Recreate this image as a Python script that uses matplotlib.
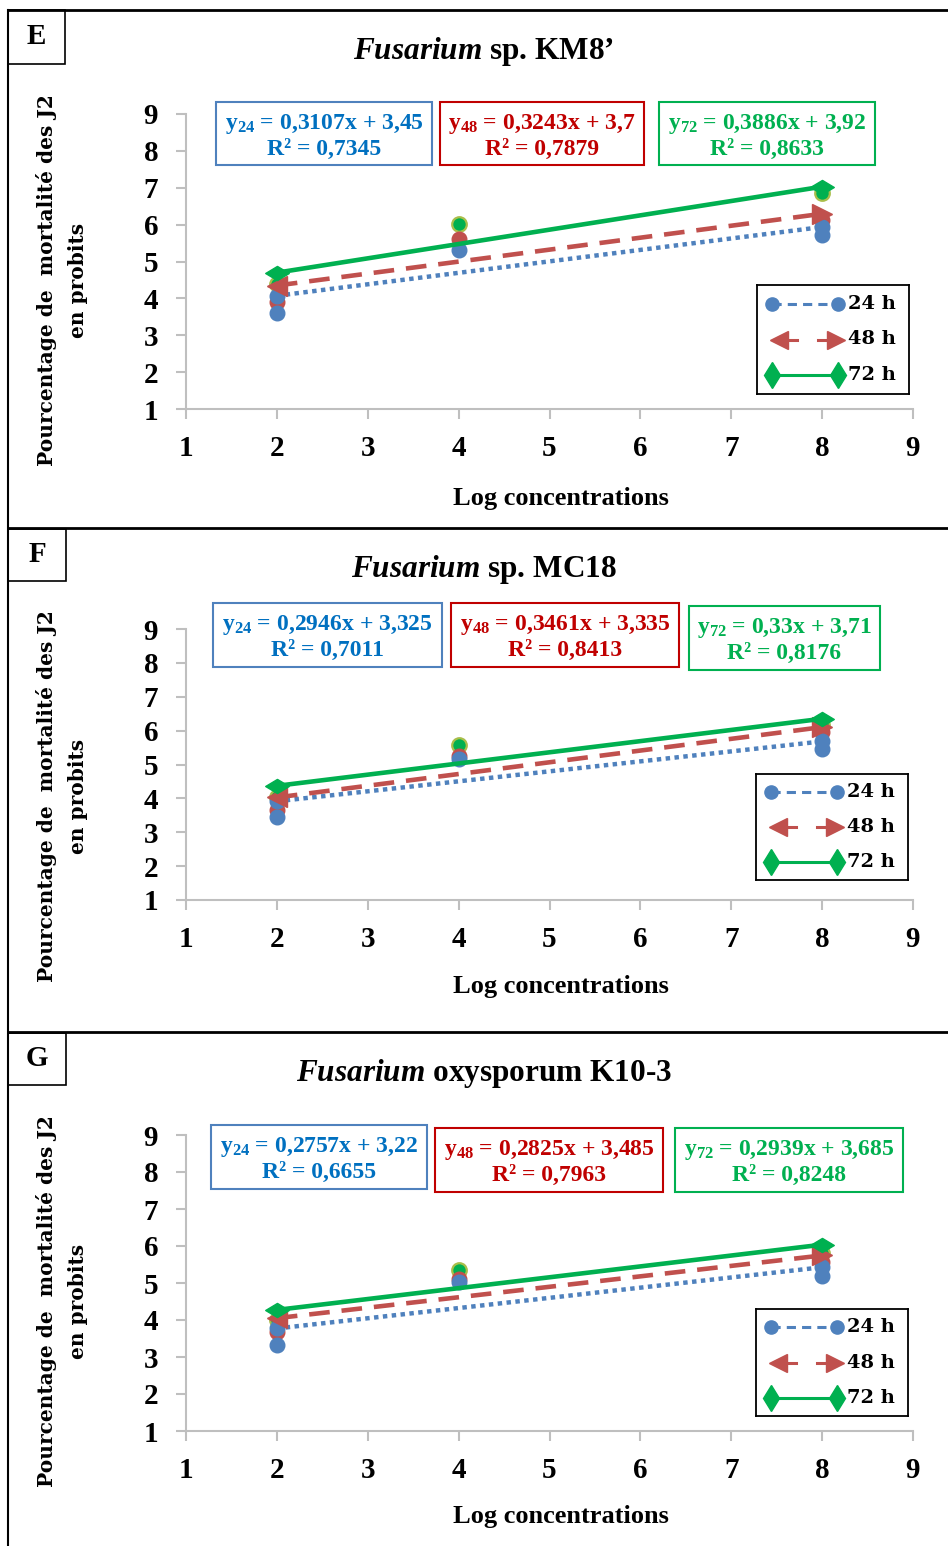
import numpy as np
import matplotlib
matplotlib.use("Agg")
import matplotlib.pyplot as plt
from matplotlib.patches import Rectangle
from matplotlib.lines import Line2D
from matplotlib.path import Path

plt.rcParams['font.family'] = ['Liberation Serif', 'DejaVu Serif']
plt.rcParams['font.weight'] = 'bold'
plt.rcParams['mathtext.fontset'] = 'custom'
plt.rcParams['mathtext.rm'] = 'Liberation Serif:bold'
plt.rcParams['mathtext.it'] = 'Liberation Serif:italic:bold'
plt.rcParams['mathtext.bf'] = 'Liberation Serif:bold'

# ---- donnees ----
conc = [2, 4, 8]
hours = ["24", "48", "72"]
panel_letters = ["E", "F", "G"]
title_species = ["sp. KM8’", "sp. MC18", "oxysporum K10-3"]

E_24 = [3.60, 5.31, 5.72]
E_48 = [3.90, 5.60, 6.12]
E_72 = [4.38, 6.03, 6.86]
F_24 = [3.46, 5.15, 5.45]
F_48 = [3.67, 5.24, 5.95]
F_72 = [4.03, 5.58, 6.16]
G_24 = [3.33, 5.04, 5.20]
G_48 = [3.68, 5.10, 5.58]
G_72 = [4.00, 5.34, 5.82]

# droites de regression (equations affichees)
E_slope = [0.3107, 0.3243, 0.3886]
E_icpt = [3.45, 3.7, 3.92]
E_r2 = [0.7345, 0.7879, 0.8633]
F_slope = [0.2946, 0.3461, 0.33]
F_icpt = [3.325, 3.335, 3.71]
F_r2 = [0.7011, 0.8413, 0.8176]
G_slope = [0.2757, 0.2825, 0.2939]
G_icpt = [3.22, 3.485, 3.685]
G_r2 = [0.6655, 0.7963, 0.8248]

probits = [[E_24, E_48, E_72], [F_24, F_48, F_72], [G_24, G_48, G_72]]
slopes = [E_slope, F_slope, G_slope]
icpts = [E_icpt, F_icpt, G_icpt]
r2s = [E_r2, F_r2, G_r2]

# ---- mise en page (pixels) ----
W, H = 948, 1546
layout = [
  dict(top=10, ax=(186, 114, 913, 409), title_y=52, xlab_y=498, ylab_y=280,
       letter=(8, 10, 65, 64), leg=(757, 285, 909, 394),
       eq=[(216, 102, 432, 165), (440, 102, 644, 165), (659, 102, 875, 165)]),
  dict(top=528, ax=(186, 629, 913, 900), title_y=570, xlab_y=987, ylab_y=796,
       letter=(8, 529, 66, 581), leg=(756, 774, 908, 880),
       eq=[(213, 603, 442, 667), (451, 603, 679, 667), (689, 606, 880, 670)]),
  dict(top=1032, ax=(186, 1135, 913, 1431), title_y=1074, xlab_y=1516, ylab_y=1301,
       letter=(8, 1033, 66, 1085), leg=(756, 1309, 908, 1416),
       eq=[(211, 1125, 427, 1189), (435, 1128, 663, 1192), (675, 1128, 903, 1192)]),
]

BLUE = '#4F81BD'
RED = '#C0504D'
GREEN = '#00B050'
GREEN_EDGE = '#A9BE4A'
TXT_COLORS = ['#0070C0', '#C00000', '#00B050']
BOX_COLORS = ['#4F81BD', '#C00000', '#00B050']

flat_diamond = Path([(-1, 0), (0, 0.6), (1, 0), (0, -0.6), (-1, 0)],
                    [Path.MOVETO, Path.LINETO, Path.LINETO, Path.LINETO, Path.CLOSEPOLY])

def fx(x):
  return x / W

def fy(y):
  return 1 - y / H

def fmt(v):
  return str(v).replace('.', ',')

fig = plt.figure(figsize=(W / 100, H / 100), dpi=100)

# bordures des panneaux
for y in [10, 528, 1032]:
  fig.add_artist(Line2D([fx(8), 1], [fy(y), fy(y)], color='black', lw=2, transform=fig.transFigure))
fig.add_artist(Line2D([fx(8), fx(8)], [fy(10), 0], color='black', lw=1.5, transform=fig.transFigure))

for p in range(3):
  L = layout[p]
  x0, y0, x1, y1 = L['ax']
  ax = fig.add_axes([fx(x0), fy(y1), (x1 - x0) / W, (y1 - y0) / H])

  series_colors = [BLUE, RED, GREEN]
  # points observes (vert, rouge, bleu)
  for k in [2, 1, 0]:
    if k == 2:
      ax.plot(conc, probits[p][k], 'o', ms=10.5, mfc=GREEN, mec=GREEN_EDGE, mew=1.6, ls='none', zorder=3)
    else:
      ax.plot(conc, probits[p][k], 'o', ms=10.5, color=series_colors[k], ls='none', zorder=3)

  # droites de tendance
  xs = np.array([conc[0], conc[-1]])
  ys = [slopes[p][k] * xs + icpts[p][k] for k in range(3)]
  ax.plot(xs, ys[0], color=BLUE, lw=3.2, ls=(0, (1, 1.0)), zorder=4)
  ax.plot(xs, ys[0], 'o', color=BLUE, ms=10.5, zorder=4)
  ax.plot(xs, ys[1], color=RED, lw=3.3, ls=(0, (4.5, 2.6)), zorder=5)
  ax.plot(xs[:1], ys[1][:1], '<', color=RED, ms=15, zorder=5)
  ax.plot(xs[1:], ys[1][1:], '>', color=RED, ms=15, zorder=5)
  ax.plot(xs, ys[2], color=GREEN, lw=3.3, zorder=6)
  ax.plot(xs, ys[2], marker=flat_diamond, color=GREEN, ms=17, ls='none', zorder=6)

  ax.set_xlim(1, 9)
  ax.set_ylim(1, 9)
  ax.set_xticks(range(1, 10))
  ax.set_yticks(range(1, 10))
  for s in ['top', 'right']:
    ax.spines[s].set_visible(False)
  for s in ['left', 'bottom']:
    ax.spines[s].set_color('#BFBFBF')
    ax.spines[s].set_linewidth(1.5)
  ax.tick_params(direction='out', length=7, width=1.5, color='#BFBFBF', labelsize=21)
  ax.tick_params(axis='x', pad=12)
  ax.tick_params(axis='y', pad=13)
  ax.patch.set_alpha(0)

  # lettre du panneau
  lx0, ly0, lx1, ly1 = L['letter']
  fig.add_artist(Rectangle((fx(lx0), fy(ly1)), (lx1 - lx0) / W, (ly1 - ly0) / H, fill=False,
                           ec='black', lw=1.2, transform=fig.transFigure))
  fig.text(fx((lx0 + lx1) / 2), fy((ly0 + ly1) / 2), panel_letters[p], fontsize=21,
           ha='center', va='center')

  # titre
  fig.text(fx(484), fy(L['title_y']), r"$\mathit{Fusarium}$ " + title_species[p],
           fontsize=22.5, ha='center', va='center')

  # axes labels
  fig.text(fx(561), fy(L['xlab_y']), "Log concentrations", fontsize=19, ha='center', va='center')
  fig.text(fx(47), fy(L['ylab_y']), "Pourcentage de  mortalité des J2", family='DejaVu Serif',
           fontsize=14.5, rotation=90, ha='center', va='center')
  fig.text(fx(78), fy(L['ylab_y']), "en probits", family='DejaVu Serif',
           fontsize=14.5, rotation=90, ha='center', va='center')

  # equations
  for k in range(3):
    bx0, by0, bx1, by1 = L['eq'][k]
    fig.add_artist(Rectangle((fx(bx0), fy(by1)), (bx1 - bx0) / W, (by1 - by0) / H, fill=False,
                             ec=BOX_COLORS[k], lw=1.5, transform=fig.transFigure))
    cx = fx((bx0 + bx1) / 2)
    line1 = r"$\mathrm{y}_{\mathrm{" + hours[k] + "}}$ = " + fmt(slopes[p][k]) + "x + " + fmt(icpts[p][k])
    line2 = "R² = " + fmt(r2s[p][k])
    fig.text(cx, fy(by0 + 22), line1, fontsize=17, color=TXT_COLORS[k], ha='center', va='center')
    fig.text(cx, fy(by0 + 47), line2, fontsize=17, color=TXT_COLORS[k], ha='center', va='center')

  # legende
  gx0, gy0, gx1, gy1 = L['leg']
  lw_, lh_ = gx1 - gx0, gy1 - gy0
  axl = fig.add_axes([fx(gx0), fy(gy1), lw_ / W, lh_ / H])
  axl.set_xlim(0, lw_)
  axl.set_ylim(lh_, 0)
  axl.set_xticks([])
  axl.set_yticks([])
  for s in axl.spines.values():
    s.set_color('black')
    s.set_linewidth(1.3)
  rows = [0.17 * lh_, 0.50 * lh_, 0.83 * lh_]
  axl.plot([15, 81], [rows[0]] * 2, color=BLUE, lw=2.2, ls=(0, (3, 2)))
  axl.plot([15, 81], [rows[0]] * 2, 'o', color=BLUE, ms=9.5)
  axl.plot([22, 40], [rows[1]] * 2, color=RED, lw=2.2)
  axl.plot([61, 79], [rows[1]] * 2, color=RED, lw=2.2)
  axl.plot([22], [rows[1]], '<', color=RED, ms=13)
  axl.plot([79], [rows[1]], '>', color=RED, ms=13)
  axl.plot([15, 81], [rows[2]] * 2, color=GREEN, lw=2.2)
  axl.plot([15, 81], [rows[2]] * 2, 'd', color=GREEN, ms=13.5)
  for r, h in zip(rows, hours):
    axl.text(91, r, h + " h", family='DejaVu Serif', fontsize=14, ha='left', va='center')

fig.savefig("out.png", dpi=100)
